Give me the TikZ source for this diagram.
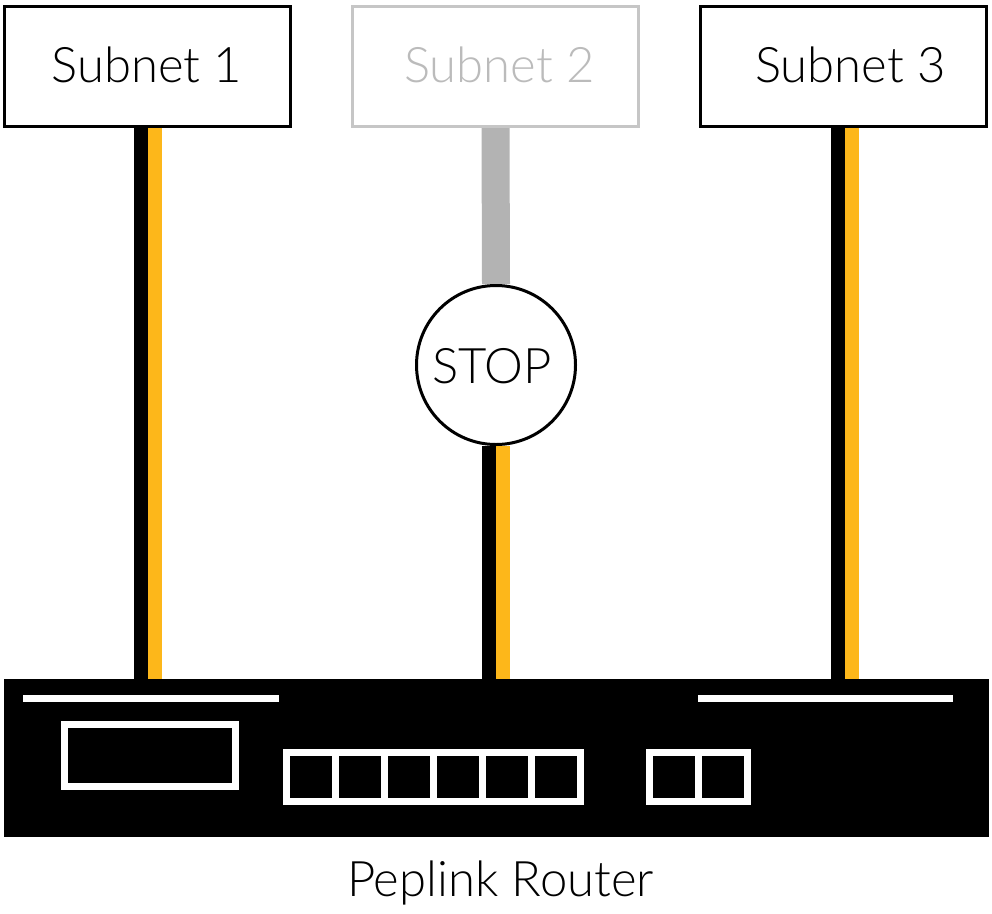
\documentclass[tikz,border=0pt]{standalone}
\usepackage{fontspec}
\setmainfont{Lato}[UprightFont=* Light]
\usetikzlibrary{backgrounds}
\definecolor{cableorange}{HTML}{FDB71A}
\definecolor{cablegray}{HTML}{B3B3B3}
\definecolor{boxgray}{HTML}{C6C6C6}
\definecolor{textgray}{HTML}{BBBBBB}
\pgfdeclarelayer{paper}
\pgfsetlayers{paper,background,main}
\begin{document}
\begin{tikzpicture}[x=1pt,y=-1pt,
  bigtext/.style={font=\fontsize{49}{58}\selectfont},
  subnet/.style={draw=black, line width=3pt, fill=white, minimum width=286pt, minimum height=120pt, inner sep=0pt, bigtext},
  wire/.style={line width=14pt},
  port/.style={draw=white, line width=7pt},
]
\useasboundingbox (0,0) rectangle (992,913);
\begin{pgfonlayer}{paper}
  \fill[white] (0,0) rectangle (992,913);
\end{pgfonlayer}

\node[subnet] (s1) at (147.5,66.5) {};
\node[bigtext] at (147,65) {Subnet 1};
\node[subnet, draw=boxgray] (s2) at (495.5,66.5) {};
\node[bigtext, text=textgray] at (499.5,65) {Subnet 2};
\node[subnet] (s3) at (843.5,66.5) {};
\node[bigtext] at (850.5,65) {Subnet 3};

\node[fill=black, minimum width=985pt, minimum height=158pt, inner sep=0pt] (router) at (496.5,758) {};
\node[circle, draw=black, fill=white, line width=3pt, minimum size=159pt, inner sep=0pt] (stop) at (496,365) {};
\node[bigtext] at (492,366) {STOP};
\node[bigtext] (label) at (500.5,883) {Peplink Router};

\begin{scope}[on background layer]
  % subnet 1 cable
  \draw[wire, black] ([xshift=-7pt]s1.south) -- ([xshift=-7pt]s1.south |- router.north);
  \draw[wire, cableorange] ([xshift=7pt]s1.south) -- ([xshift=7pt]s1.south |- router.north);
  % subnet 3 cable
  \draw[wire, black] ([xshift=-5.5pt]s3.south) -- ([xshift=-5.5pt]s3.south |- router.north);
  \draw[wire, cableorange] ([xshift=8.5pt]s3.south) -- ([xshift=8.5pt]s3.south |- router.north);
  % subnet 2 cable
  \draw[line width=28pt, cablegray] (s2.south) -- (stop.north);
  \draw[wire, black] ([xshift=-7pt]stop.south) -- ([xshift=-7pt]stop.south |- router.north);
  \draw[wire, cableorange] ([xshift=7pt]stop.south) -- ([xshift=7pt]stop.south |- router.north);
\end{scope}

% router details
\draw[port] (23,698.5) -- (279,698.5);
\draw[port] (698,698.5) -- (953,698.5);
\draw[port] (64.5,724.5) rectangle (235.5,786.5);
\draw[port] (286.5,752.5) rectangle (580.5,801.5);
\foreach \x in {335.5,384.5,433.5,482.5,531.5}
  \draw[port] (\x,752.5) -- (\x,801.5);
\draw[port] (649.5,752.5) rectangle (747.5,801.5);
\draw[port] (698.5,752.5) -- (698.5,801.5);
\end{tikzpicture}
\end{document}
